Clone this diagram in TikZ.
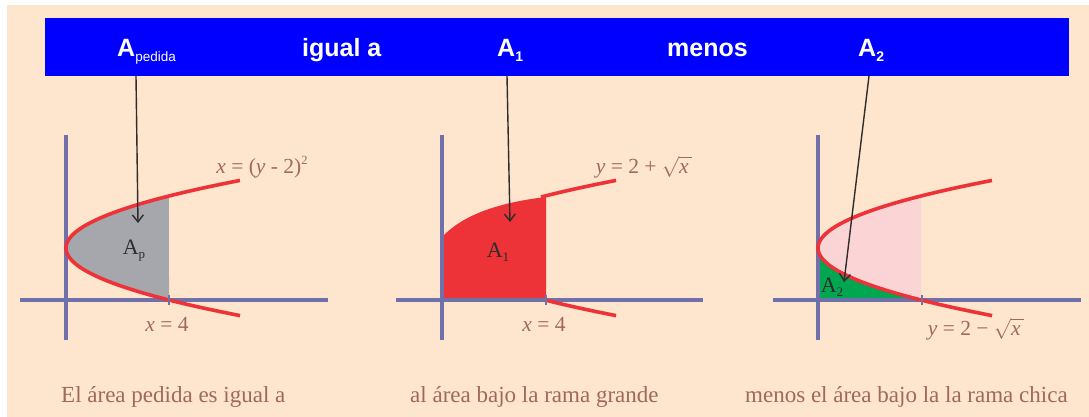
\documentclass[tikz,border=0pt]{standalone}
\usepackage{fontspec}
\setmainfont{Liberation Serif}
\newfontfamily\barfont{Liberation Sans}
\usetikzlibrary{arrows.meta}
\definecolor{peach}{RGB}{254,229,205}
\definecolor{barblue}{RGB}{0,0,255}
\definecolor{axisc}{RGB}{112,112,170}
\definecolor{curvered}{RGB}{237,50,56}
\definecolor{fillgray}{RGB}{166,167,172}
\definecolor{fillpink}{RGB}{251,213,213}
\definecolor{fillgreen}{RGB}{0,166,80}
\definecolor{labelbrown}{RGB}{160,105,95}
\definecolor{arrowc}{RGB}{45,45,45}
\begin{document}
\begin{tikzpicture}[x=1pt,y=-1pt,
  axis/.style={draw=axisc, line width=4pt},
  curve/.style={draw=curvered, line width=3.6pt},
  tickmark/.style={draw=axisc, line width=2.5pt},
  pointer/.style={draw=arrowc, line width=1.4pt, -{Straight Barb[length=7pt,width=11pt]}},
  barlabel/.style={text=white, font=\barfont\bfseries\fontsize{25}{30}\selectfont, inner sep=0pt, anchor=base west},
  caption/.style={text=labelbrown, font=\fontsize{23}{28}\selectfont, inner sep=0pt, anchor=base west},
  eqlabel/.style={text=labelbrown, font=\fontsize{21.5}{26}\selectfont, inner sep=0pt},
  arealabel/.style={text=arrowc, font=\fontsize{22}{26}\selectfont, inner sep=0pt}]
\fill[white] (0,0) rectangle (1089,417);
\fill[peach] (7,5) rectangle (1089,417);
\useasboundingbox (0,0) rectangle (1089,417);
% top bar
\fill[barblue] (45,18) rectangle (1069,76);
\node[barlabel] (lp) at (117,57) {A\raisebox{-5pt}{\mdseries\fontsize{13.5}{14}\selectfont pedida}};
\node[barlabel] (ig) at (302,57) {igual a};
\node[barlabel] (l1) at (497,57) {A\raisebox{-5pt}{\fontsize{14}{14}\selectfont 1}};
\node[barlabel] (mn) at (667,57) {menos};
\node[barlabel] (l2) at (858,57) {A\raisebox{-5pt}{\fontsize{14}{14}\selectfont 2}};
% captions
\node[caption] (c1) at (61,402) {El área pedida es igual a};
\node[caption] (c2) at (410,402) {al área bajo la rama grande};
\node[caption] (c3) at (745,402) {menos el área bajo la la rama chica};
% ---------- graph 1
\begin{scope}[shift={(66pt,-300pt)}, x=25.75pt, y=26pt]
  \fill[fillgray] plot[domain=0:4, samples=60, variable=\t] ({(\t-2)*(\t-2)},\t) -- cycle;
\end{scope}
\draw[axis] (66,135) -- (66,340);
\draw[axis] (20,300) -- (328,300);
\begin{scope}[shift={(66pt,-300pt)}, x=25.75pt, y=26pt]
  \draw[curve] plot[domain=-0.6:4.6, samples=80, variable=\t] ({(\t-2)*(\t-2)},\t);
\end{scope}
\draw[tickmark] (169,295) -- (169,305);
\node[eqlabel] (eq1) at (262,167) {\textit{x} = (\textit{y} - 2)\raisebox{9pt}{\fontsize{12.5}{12}\selectfont 2}};
\node[eqlabel] (x41) at (167,324) {\textit{x} = 4};
\node[arealabel] (ap) at (134,251) {A\raisebox{-4pt}{\fontsize{13}{13}\selectfont p}};
\coordinate (s1) at (136,76);
\coordinate (e1) at (138,223);
\draw[pointer] (s1) -- (e1);
% ---------- graph 2
\fill[curvered] (442,300) -- (442,237) .. controls (462,216) and (495,203) .. (546,197) -- (546,300) -- cycle;
\draw[axis] (442,135) -- (442,340);
\draw[axis] (396,300) -- (703,300);
\begin{scope}[shift={(442pt,-300pt)}, x=25.75pt, y=26pt]
  \draw[curve] plot[domain=3.96:4.6, samples=20, variable=\t] ({(\t-2)*(\t-2)},\t);
  \draw[curve] plot[domain=-0.6:0, samples=20, variable=\t] ({(\t-2)*(\t-2)},\t);
\end{scope}
\draw[tickmark] (546,295) -- (546,305);
\node[eqlabel] (eq2) at (644,167) {\textit{y} = 2 + $\sqrt{\textit{x}\,}$};
\node[eqlabel] (x42) at (544,324) {\textit{x} = 4};
\node[arealabel] (a1) at (498,252) {A\raisebox{-4pt}{\fontsize{13}{13}\selectfont 1}};
\coordinate (s2) at (507,76);
\coordinate (e2) at (510,222);
\draw[pointer] (s2) -- (e2);
% ---------- graph 3
\begin{scope}[shift={(818pt,-300pt)}, x=25.75pt, y=26pt]
  \fill[fillpink] plot[domain=0:4, samples=60, variable=\t] ({(\t-2)*(\t-2)},\t) -- cycle;
  \fill[fillgreen] (0,0) -- (4,0) -- plot[domain=0:2, samples=40, variable=\t] ({(\t-2)*(\t-2)},\t) -- cycle;
\end{scope}
\draw[axis] (818,135) -- (818,340);
\draw[axis] (773,300) -- (1081,300);
\begin{scope}[shift={(818pt,-300pt)}, x=25.75pt, y=26pt]
  \draw[curve] plot[domain=-0.6:4.6, samples=80, variable=\t] ({(\t-2)*(\t-2)},\t);
\end{scope}
\draw[tickmark] (922,295) -- (922,305);
\node[eqlabel] (eq3) at (976,329) {\textit{y} = 2 − $\sqrt{\textit{x}\,}$};
\node[arealabel] (a2) at (832,287) {A\raisebox{-4pt}{\fontsize{13}{13}\selectfont 2}};
\coordinate (s3) at (869,76);
\coordinate (e3) at (844,282);
\draw[pointer] (s3) -- (e3);
\end{tikzpicture}
\end{document}
